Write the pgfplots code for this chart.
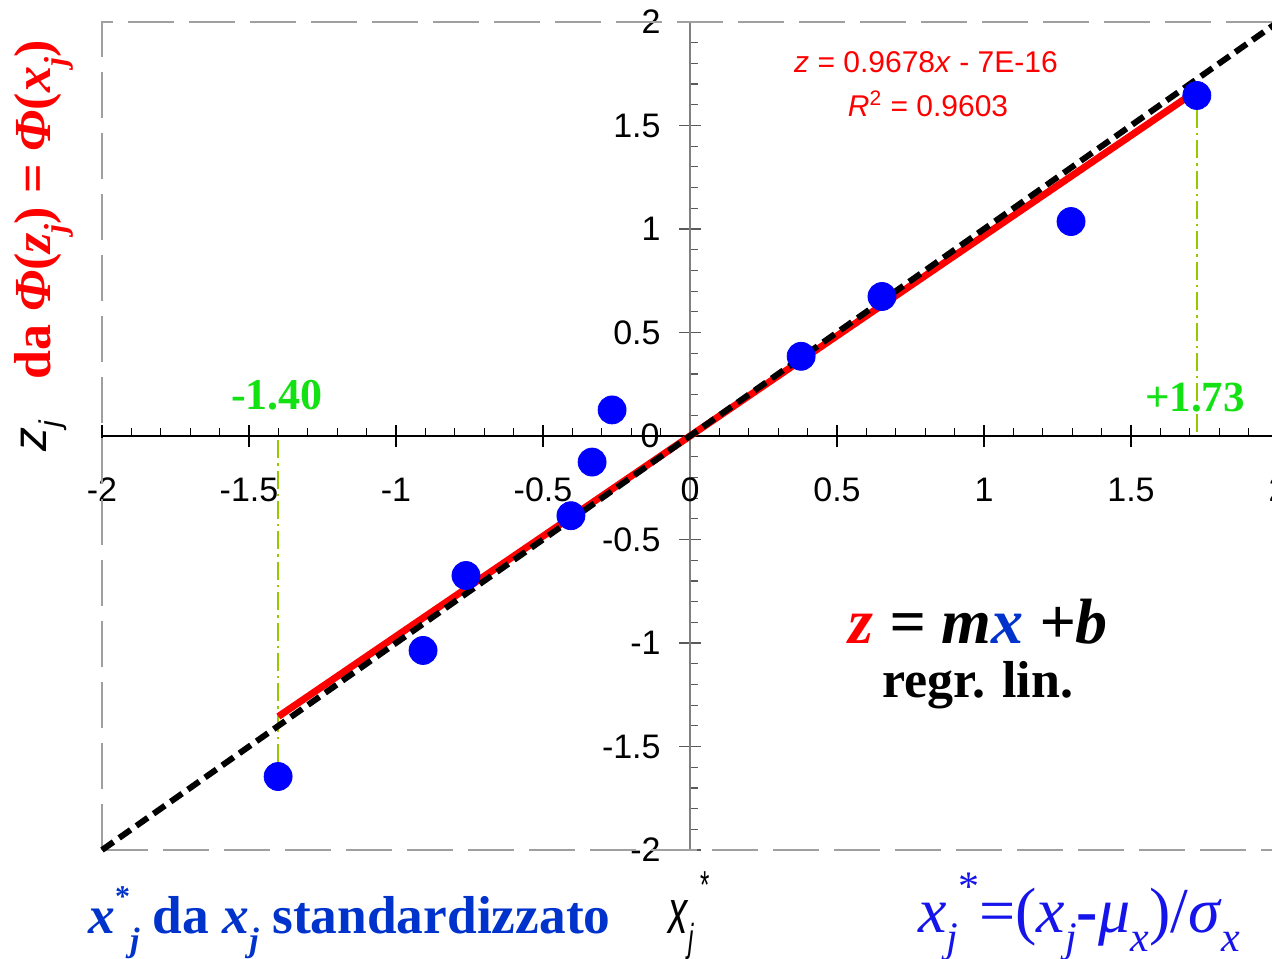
\documentclass[border=0pt]{standalone}
\usepackage{fontspec}
\setmainfont{Liberation Serif}
\setsansfont{Liberation Sans}
\usepackage{pgfplots}
\pgfplotsset{compat=1.18}
\definecolor{myred}{RGB}{255,0,0}
\definecolor{myblue}{RGB}{0,0,255}
\definecolor{lblue}{RGB}{0,51,204}
\definecolor{rblue}{RGB}{20,20,235}
\definecolor{mygreen}{RGB}{20,225,20}
\definecolor{ygreen}{RGB}{150,200,0}
\definecolor{framegray}{RGB}{160,160,160}
\definecolor{axgray}{RGB}{128,128,128}
\newcommand{\fs}[1]{\fontsize{#1}{#1}\selectfont}
\begin{document}
\begin{tikzpicture}
\begin{axis}[
  at={(51pt,54pt)}, anchor=south west,
  scale only axis, width=588pt, height=414pt,
  xmin=-2,xmax=2,ymin=-2,ymax=2,
  axis x line=middle, axis y line=middle,
  x axis line style={black,line width=0.8pt,-},
  y axis line style={axgray,line width=0.8pt,-},
  xtick={-2,-1.5,-1,-0.5,0,0.5,1,1.5,2},
  ytick={-2,-1.5,-1,-0.5,0,0.5,1,1.5,2},
  minor x tick num=4, minor y tick num=4,
  tick align=center,
  major tick length=11pt, minor tick length=4pt,
  minor x tick style={yshift=2pt},
  minor y tick style={xshift=2pt},
  x tick style={black,line width=0.6pt},
  y tick style={axgray!70!black,line width=0.6pt},
  ticklabel style={font=\sffamily\fs{17}},
  /pgf/number format/assume math mode=true,
  xticklabel style={anchor=center,yshift=-21.5pt},
  yticklabel style={anchor=east,inner sep=0pt,xshift=-9pt},
  clip=false,
]
% dashed frame
\draw[framegray, line width=1pt, dash pattern=on 23pt off 7.5pt] (axis cs:-2,-2) -- (axis cs:-2,2) -- (axis cs:2,2);
\draw[framegray, line width=1pt, dash pattern=on 23pt off 7.5pt] (axis cs:-2,-2) -- (axis cs:2,-2);
% green reference lines
\addplot[ygreen, line width=1pt, dash pattern=on 9pt off 2.5pt on 1.2pt off 2.5pt] coordinates {(-1.40,-0.02) (-1.40,-1.645)};
\addplot[ygreen, line width=1pt, dash pattern=on 9pt off 2.5pt on 1.2pt off 2.5pt] coordinates {(1.724,0.02) (1.724,1.645)};
% data points
\addplot[only marks, mark=*, mark size=7pt, mark options={draw=myblue, fill=myblue}] table {
x y
-1.401 -1.645
-0.908 -1.036
-0.762 -0.674
-0.405 -0.385
-0.333 -0.126
-0.265 0.126
0.378 0.385
0.653 0.674
1.296 1.036
1.724 1.645
};
% regression line
\addplot[myred, line width=3.5pt] coordinates {(-1.40,-1.355) (1.724,1.6685)};
% bisector
\addplot[black, line width=3pt, dash pattern=on 7pt off 3.5pt] coordinates {(-2,-2) (2,2)};
\node[mygreen, font=\bfseries\fs{22}] at (axis cs:-1.405,0.198) {-1.40};
\node[mygreen, font=\bfseries\fs{21.5}] at (axis cs:1.718,0.184) {+1.73};
% origin tick labels
\node[font=\sffamily\fs{17}] at (axis cs:0,0) [yshift=-27pt] {0};
\node[font=\sffamily\fs{17}, anchor=east, inner sep=0pt] at (axis cs:0,0) [xshift=-15pt] {0};
\end{axis}
\begin{scope}[x=0.5pt,y=0.5pt]
\node[text=myred, font=\sffamily\fs{15}] at (926,896) {\textit{z} = 0.9678\textit{x} - 7E-16};
\node[text=myred, font=\sffamily\fs{15}] at (928,854) {\textit{R}\textsuperscript{2} = 0.9603};
\node[font=\bfseries\itshape\fs{32}] at (978,336) {{\color{myred}z} = m{\color{lblue}x} +b};
\node[font=\bfseries\fs{26}] at (978,273) {regr. lin.};
\node[rotate=90, text=myred, font=\bfseries\fs{26}] at (44,748) {da \textit{Φ}(\textit{z}\raisebox{-0.3em}{\fs{16}\textit{j}}) = \textit{Φ}(\textit{x}\raisebox{-0.3em}{\fs{16}\textit{j}})};
\node[rotate=90, font=\sffamily\fs{24}] at (44,522) {\textit{z}\raisebox{-0.3em}{\fs{15}\textit{j}}};
\node[anchor=base west, inner sep=0pt, text=lblue, font=\bfseries\fs{26.7}] at (88,25) {\textit{x}\raisebox{0.5em}{\fs{15}*}\raisebox{-0.35em}{\fs{17}\textit{j}} da \textit{x}\raisebox{-0.35em}{\fs{17}\textit{j}} standardizzato};
\node[anchor=base west, inner sep=0pt] at (668,25) {\scalebox{0.8}[1.3]{\sffamily\fs{24}\textit{x}\raisebox{-0.3em}{\fs{15}\textit{j}}\hspace{0.15em}\raisebox{0.55em}{\fs{15}*}}};
\node[anchor=base west, inner sep=0pt, text=rblue, font=\fs{32}] at (918,26) {\textit{x}\raisebox{-0.3em}{\fs{21}\textit{j}}\raisebox{0.5em}{\fs{21}*}=(\textit{x}\raisebox{-0.3em}{\fs{21}\textit{j}}\textbf{-}\textit{μ}\raisebox{-0.3em}{\fs{21}\textit{x}})/\textit{σ}\raisebox{-0.3em}{\fs{21}\textit{x}}};
\end{scope}
\pgfresetboundingbox
\path[use as bounding box] (0,0) rectangle (636pt,479pt);
\end{tikzpicture}
\end{document}
